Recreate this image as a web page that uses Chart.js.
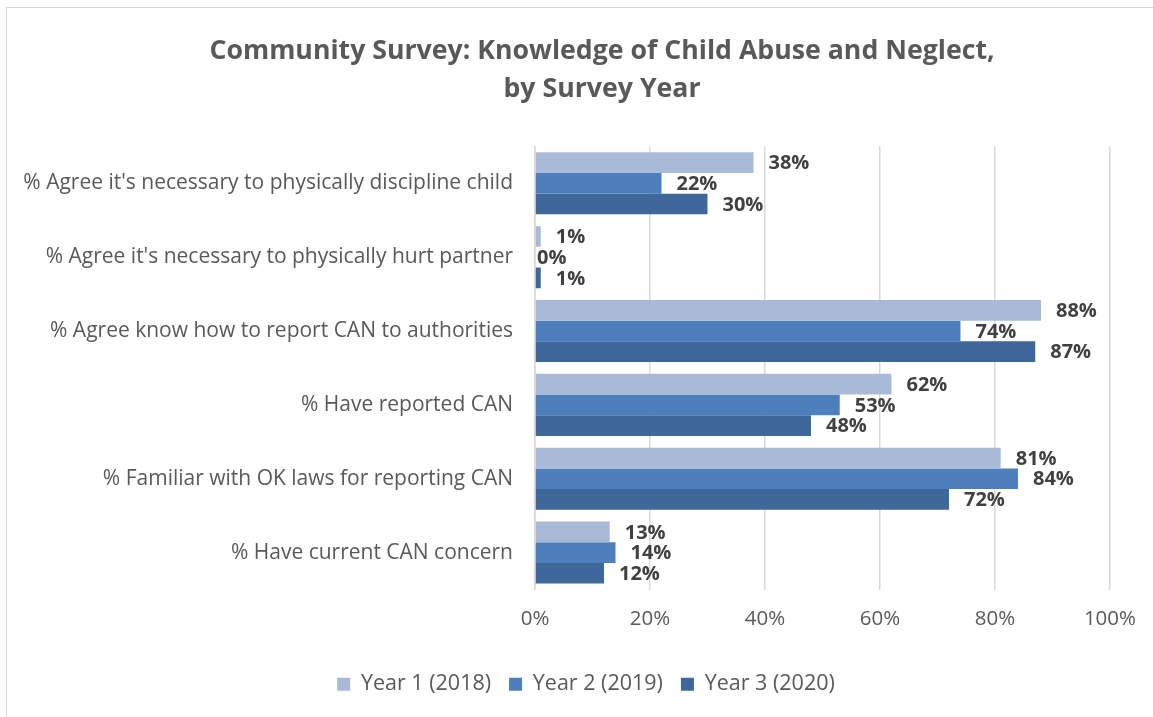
<!DOCTYPE html>
<html><head><meta charset="utf-8">
<script src="https://cdn.jsdelivr.net/npm/chart.js@4/dist/chart.umd.min.js"></script>
<style>
html,body{margin:0;padding:0;background:#fff;overflow:hidden;}
#wrap{position:absolute;left:0;top:0;width:1153px;height:717px;}
#frame{position:absolute;left:6px;top:7px;width:1170px;height:730px;border:1.5px solid #d9d9d9;pointer-events:none;}
</style></head><body>
<div id="wrap"><canvas id="c" width="1153" height="717"></canvas></div>
<div id="frame"></div>
<script>
const titleLines = ["Community Survey: Knowledge of Child Abuse and Neglect,", "by Survey Year"];
const categories = [
  "% Agree it's necessary to physically discipline child",
  "% Agree it's necessary to physically hurt partner",
  "% Agree know how to report CAN to authorities",
  "% Have reported CAN",
  "% Familiar with OK laws for reporting CAN",
  "% Have current CAN concern"
];
const seriesNames = ["Year 1 (2018)", "Year 2 (2019)", "Year 3 (2020)"];
const year1 = [38, 1, 88, 62, 81, 13];
const year2 = [22, 0, 74, 53, 84, 14];
const year3 = [30, 1, 87, 48, 72, 12];
const xTicks = [0, 20, 40, 60, 80, 100];

const colors = ["#a9b9d8", "#4c7fbc", "#3e6899"];
const FONT = "'Open Sans', sans-serif";

const labelPlugin = {
  id: 'barLabels',
  afterLayout(chart) {
    if (chart.titleBlock) { chart.titleBlock.left += 42; chart.titleBlock.right += 42; }
    if (chart.legend) { chart.legend.left += 26; chart.legend.right += 26; }
  },
  afterDatasetsDraw(chart) {
    const ctx = chart.ctx;
    ctx.save();
    ctx.font = "bold 20px " + FONT;
    ctx.fillStyle = "#404040";
    ctx.textAlign = "left";
    ctx.textBaseline = "middle";
    chart.data.datasets.forEach((ds, i) => {
      const meta = chart.getDatasetMeta(i);
      meta.data.forEach((bar, j) => {
        const v = ds.data[j];
        const off = v === 0 ? 2 : 15;
        ctx.fillText(v + "%", bar.x + off, bar.y + 1);
      });
    });
    ctx.restore();
  }
};

new Chart(document.getElementById('c'), {
  type: 'bar',
  data: {
    labels: categories,
    datasets: [
      { label: seriesNames[0], data: year1, backgroundColor: colors[0] },
      { label: seriesNames[1], data: year2, backgroundColor: colors[1] },
      { label: seriesNames[2], data: year3, backgroundColor: colors[2] }
    ]
  },
  options: {
    indexAxis: 'y',
    responsive: false,
    animation: false,
    devicePixelRatio: 1,
    layout: { padding: { left: 0, right: 33, top: 18, bottom: 12 } },
    datasets: { bar: { categoryPercentage: 0.84, barPercentage: 1.0 } },
    scales: {
      x: {
        min: 0, max: 100,
        afterBuildTicks(scale) { scale.ticks = xTicks.map(v => ({ value: v })); },
        afterFit(scale) { scale.height = 66; },
        ticks: { callback: v => v + "%", color: "#595959", font: { size: 20.5, family: FONT }, padding: 17 },
        grid: { color: "#d9d9d9", lineWidth: 1.5, drawTicks: false },
        border: { display: false }
      },
      y: {
        afterFit(scale) { scale.width = 535; },
        ticks: { color: "#595959", font: { size: 21, family: FONT }, padding: 22 },
        grid: { display: false, drawTicks: false },
        border: { display: true, color: "#d9d9d9", width: 1.5 }
      }
    },
    plugins: {
      title: {
        display: true,
        text: titleLines,
        color: "#595959",
        font: { size: 26.7, weight: 'bold', family: FONT, lineHeight: 1.43 },
        padding: { top: 14, bottom: 38 }
      },
      legend: {
        position: 'bottom',
        labels: { color: "#595959", font: { size: 21.5, family: FONT }, boxWidth: 13, boxHeight: 13, padding: 18 }
      },
      tooltip: { enabled: false }
    }
  },
  plugins: [labelPlugin]
});
</script>
</body></html>
